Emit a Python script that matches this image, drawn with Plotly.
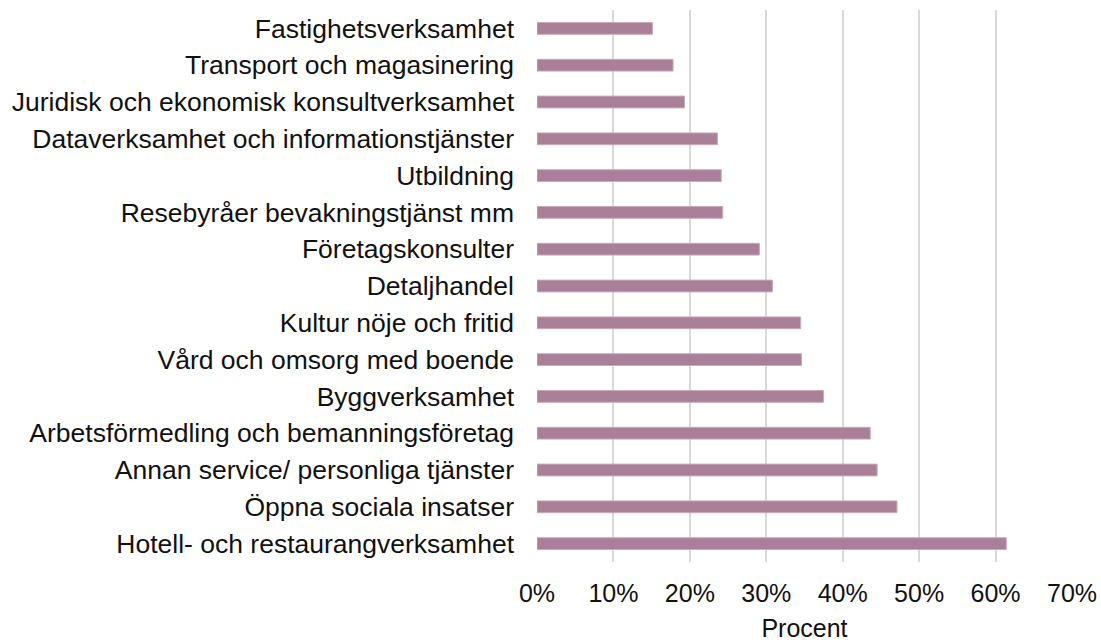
import plotly.graph_objects as go

# Branscher, listed bottom-to-top as drawn
branscher = [
    "Hotell- och restaurangverksamhet",
    "Öppna sociala insatser",
    "Annan service/ personliga tjänster",
    "Arbetsförmedling och bemanningsföretag",
    "Byggverksamhet",
    "Vård och omsorg med boende",
    "Kultur nöje och fritid",
    "Detaljhandel",
    "Företagskonsulter",
    "Resebyråer bevakningstjänst mm",
    "Utbildning",
    "Dataverksamhet och informationstjänster",
    "Juridisk och ekonomisk konsultverksamhet",
    "Transport och magasinering",
    "Fastighetsverksamhet",
]
andel = [0.614, 0.471, 0.445, 0.436, 0.375, 0.346, 0.345, 0.308, 0.291,
         0.243, 0.241, 0.236, 0.193, 0.178, 0.151]

x_ticks = [0, 0.1, 0.2, 0.3, 0.4, 0.5, 0.6, 0.7]

fig = go.Figure(
    go.Bar(
        x=andel,
        y=branscher,
        orientation="h",
        marker=dict(color="#A98097", line=dict(color="#C9A9BA", width=1)),
        width=0.32,
    )
)

fig.update_layout(
    width=1101,
    height=642,
    margin=dict(l=537, r=29, t=10, b=80, autoexpand=False),
    paper_bgcolor="white",
    plot_bgcolor="white",
    font=dict(family="Liberation Sans, Arial, sans-serif", size=25, color="#111111"),
    showlegend=False,
    xaxis=dict(
        range=[0, 0.7],
        tickvals=x_ticks,
        tickformat=".0%",
        tickfont=dict(size=25),
        showgrid=True,
        gridcolor="#D9D9D9",
        gridwidth=2,
        zeroline=False,
        showline=False,
        ticks="",
        ticklabelstandoff=14,
        automargin=False,
        title=dict(text="Procent", standoff=14, font=dict(size=25)),
        fixedrange=True,
    ),
    yaxis=dict(
        categoryorder="array",
        categoryarray=branscher,
        tickfont=dict(size=26.5),
        showgrid=False,
        zeroline=False,
        showline=False,
        ticks="",
        ticklabelstandoff=22,
        automargin=False,
        fixedrange=True,
    ),
)

fig.write_html("out.html")
